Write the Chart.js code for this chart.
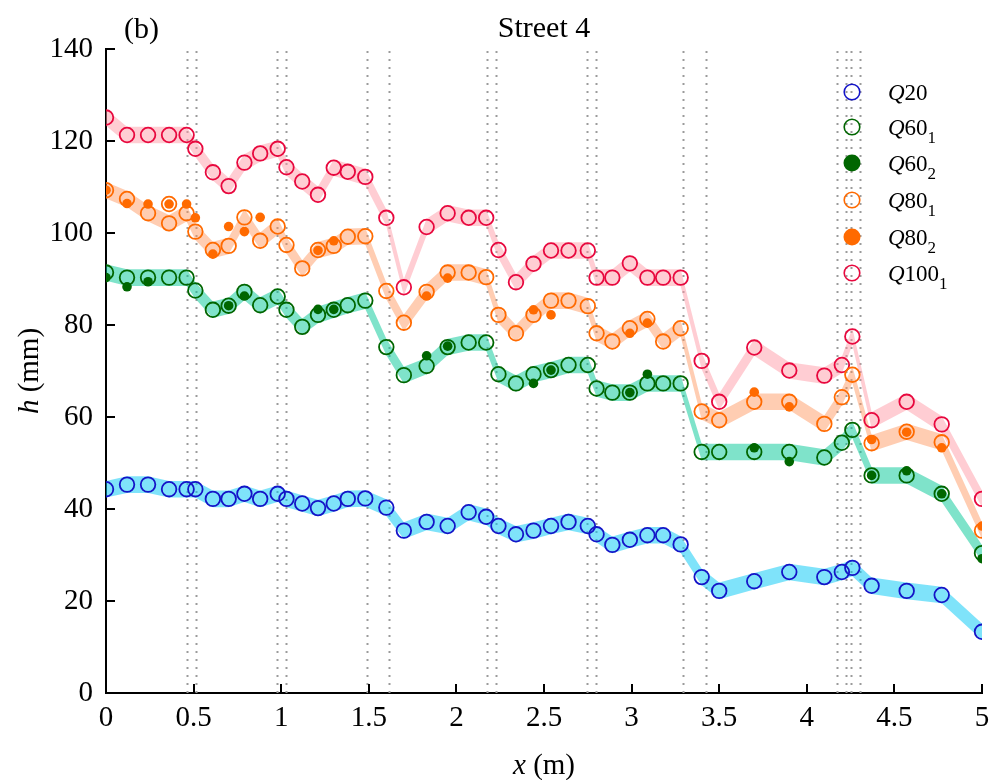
<!DOCTYPE html>
<html><head><meta charset="utf-8">
<style>html,body{margin:0;padding:0;background:#fff;}#wrap{width:992px;height:780px;position:relative;}</style>
<script src="https://cdn.jsdelivr.net/npm/chart.js@4.4.1/dist/chart.umd.min.js"></script>
</head><body><div id="wrap"><canvas id="c" width="992" height="780"></canvas></div>
<script>
// ---- data ----
const xPositions = [0, 0.12, 0.24, 0.36, 0.46, 0.51, 0.61, 0.70, 0.79, 0.88, 0.98, 1.03, 1.12, 1.21, 1.30, 1.38, 1.48, 1.60, 1.70, 1.83, 1.95, 2.07, 2.17, 2.24, 2.34, 2.44, 2.54, 2.64, 2.75, 2.80, 2.89, 2.99, 3.09, 3.18, 3.28, 3.40, 3.50, 3.70, 3.90, 4.10, 4.20, 4.26, 4.37, 4.57, 4.77, 5.00];
const Q20 = [44.3,45.3,45.3,44.3,44.3,44.3,42.2,42.2,43.3,42.2,43.3,42.2,41.2,40.2,41.2,42.2,42.3,40.3,35.3,37.2,36.3,39.3,38.3,36.3,34.5,35.3,36.3,37.2,36.3,34.5,32.2,33.3,34.3,34.3,32.3,25.2,22.2,24.3,26.3,25.2,26.3,27.2,23.3,22.2,21.3,13.3];
const Q60_1 = [91.4,90.3,90.3,90.3,90.3,87.5,83.3,84.2,87.2,84.3,86.2,83.3,79.6,82.2,83.3,84.3,85.3,75.2,69.1,71.1,75.2,76.2,76.2,69.3,67.3,69.3,70.2,71.3,71.3,66.2,65.3,65.3,67.3,67.3,67.3,52.4,52.4,52.4,52.4,51.2,54.4,57.2,47.3,47.3,43.3,30.4];
const Q60_2 = [90.3,88.3,89.4,null,null,null,null,84.2,86.3,null,null,null,null,83.4,83.4,null,null,null,null,73.3,75.4,null,null,null,null,67.3,70.2,null,null,null,null,65.3,69.3,null,null,null,null,53.3,50.3,null,null,null,47.3,48.3,43.3,29.2];
const Q80_1 = [109.3,107.4,104.3,102.1,104.3,100.3,96.3,97.2,103.4,98.3,101.4,97.4,92.3,96.3,97.2,99.2,99.3,87.4,80.5,87.2,91.4,91.4,90.4,82.2,78.2,82.2,85.3,85.3,84.1,78.2,76.4,79.3,81.3,76.4,79.3,61.2,59.3,63.3,63.3,58.5,64.3,69.2,54.3,56.8,54.5,35.3];
const Q80_1_extraX = [0.36];
const Q80_1_extraY = [106.3];
const Q80_2 = [109.3,106.4,106.3,106.3,106.3,103.3,95.4,101.4,100.3,103.4,null,null,null,96.2,98.3,null,null,null,null,86.3,90.2,null,null,null,null,83.3,82.2,null,null,null,null,78.2,80.4,null,null,null,null,65.4,62.2,null,null,null,55.1,56.7,53.3,36.3];
const Q100_1 = [125.1,121.3,121.3,121.3,121.3,118.3,113.2,110.2,115.3,117.3,118.3,114.3,111.2,108.3,114.2,113.3,112.2,103.3,88.2,101.3,104.3,103.3,103.3,96.3,89.3,93.3,96.2,96.2,96.2,90.3,90.3,93.4,90.3,90.3,90.3,72.2,63.3,75.1,70.1,69.0,71.3,77.5,59.3,63.3,58.4,42.2];
const dividerX = [0.463, 0.513, 0.977, 1.028, 1.490, 1.615, 2.174, 2.225, 2.744, 2.796, 3.291, 3.422, 4.175, 4.221, 4.255, 4.301];
const xTicks = [0, 0.5, 1, 1.5, 2, 2.5, 3, 3.5, 4, 4.5, 5];
const yTicks = [0, 20, 40, 60, 80, 100, 120, 140];
const legendLabels = [['20',''],['60','1'],['60','2'],['80','1'],['80','2'],['100','1']];

// ---- styles ----
const FONT = "'Liberation Serif','Times New Roman',serif";
const BAND_HALF = 1.8; // half height of the shaded band, in mm
const C_BLUE = '#1414c8', C_GREEN = '#006600', C_ORANGE = '#ff6a00', C_RED = '#e8083e';
const B_BLUE = 'rgba(0,200,245,0.5)', B_GREEN = 'rgba(0,200,150,0.5)', B_ORANGE = 'rgba(255,145,85,0.45)', B_RED = 'rgba(255,150,162,0.48)';

function pts(vals, off) {
  const out = [];
  vals.forEach((v, i) => { if (v !== null && v !== undefined) out.push({x: xPositions[i], y: v + (off || 0)}); });
  return out;
}
function bandSets(vals, color) {
  return [
    {data: pts(vals, BAND_HALF), borderWidth: 0, pointRadius: 0, fill: '+1', backgroundColor: color, order: 10, tension: 0},
    {data: pts(vals, -BAND_HALF), borderWidth: 0, pointRadius: 0, fill: false, order: 10, tension: 0}
  ];
}
function markerSet(data, color, filled) {
  return {data, showLine: false, pointStyle: 'circle',
    pointRadius: filled ? 4.8 : 7.3, pointHoverRadius: filled ? 4.8 : 7.3,
    borderWidth: filled ? 0 : 1.8, pointBorderColor: color, borderColor: color,
    pointBackgroundColor: filled ? color : 'rgba(0,0,0,0)', order: filled ? 0 : 1};
}
const q80extra = Q80_1_extraX.map((x, i) => ({x, y: Q80_1_extraY[i]}));
const datasets = [
  ...bandSets(Q100_1, B_RED),
  ...bandSets(Q80_1, B_ORANGE),
  ...bandSets(Q60_1, B_GREEN),
  ...bandSets(Q20, B_BLUE),
  markerSet(pts(Q20), C_BLUE, false),
  markerSet(pts(Q60_1), C_GREEN, false),
  markerSet(pts(Q60_2), C_GREEN, true),
  markerSet(pts(Q80_1).concat(q80extra), C_ORANGE, false),
  markerSet(pts(Q80_2), C_ORANGE, true),
  markerSet(pts(Q100_1), C_RED, false)
];
const legendStyles = [[C_BLUE,false],[C_GREEN,false],[C_GREEN,true],[C_ORANGE,false],[C_ORANGE,true],[C_RED,false]];

function richText(ctx, parts, x, y) {
  let cx = x;
  parts.forEach(p => { ctx.font = p[1]; ctx.fillText(p[0], cx, y + (p[2] || 0)); cx += ctx.measureText(p[0]).width; });
  return cx - x;
}
function richWidth(ctx, parts) {
  let w = 0; parts.forEach(p => { ctx.font = p[1]; w += ctx.measureText(p[0]).width; }); return w;
}

const decor = {
  id: 'decor',
  beforeDatasetsDraw(chart) {
    const {ctx, chartArea: a, scales: {x}} = chart;
    ctx.save();
    ctx.strokeStyle = 'rgb(155,155,155)';
    ctx.lineWidth = 2;
    ctx.setLineDash([2, 6]);
    dividerX.forEach(v => {
      const px = Math.round(x.getPixelForValue(v)) + 0.5;
      ctx.beginPath(); ctx.moveTo(px, a.top + 2); ctx.lineTo(px, a.bottom); ctx.stroke();
    });
    ctx.restore();
  },
  afterDraw(chart) {
    const {ctx, chartArea: a, scales: {x, y}} = chart;
    ctx.save();
    ctx.strokeStyle = '#000'; ctx.lineWidth = 2;
    yTicks.forEach(v => { const py = Math.round(y.getPixelForValue(v)); ctx.beginPath(); ctx.moveTo(a.left, py); ctx.lineTo(a.left + 9, py); ctx.stroke(); });
    xTicks.forEach(v => { const px = Math.round(x.getPixelForValue(v)); ctx.beginPath(); ctx.moveTo(px, a.bottom); ctx.lineTo(px, a.bottom - 9); ctx.stroke(); });
    ctx.fillStyle = '#000';
    ctx.textBaseline = 'alphabetic';
    ctx.font = '30px ' + FONT; ctx.textAlign = 'center';
    ctx.fillText('Street 4', (a.left + a.right) / 2, 37);
    ctx.textAlign = 'left';
    ctx.fillText('(b)', 124, 38);
    const xt = [['x', 'italic 29px ' + FONT], [' (m)', '29px ' + FONT]];
    const xw = richWidth(ctx, xt);
    richText(ctx, xt, (a.left + a.right) / 2 - xw / 2, 774);
    const yt = [['h', 'italic 29px ' + FONT], [' (mm)', '29px ' + FONT]];
    const yw = richWidth(ctx, yt);
    ctx.save(); ctx.translate(38, (a.top + a.bottom) / 2); ctx.rotate(-Math.PI / 2);
    richText(ctx, yt, -yw / 2, 0); ctx.restore();
    const ly = [92, 127, 163, 200, 237, 273];
    legendLabels.forEach((lab, i) => {
      const [col, filled] = legendStyles[i];
      ctx.beginPath(); ctx.arc(852, ly[i], filled ? 8.5 : 7.8, 0, Math.PI * 2);
      if (filled) { ctx.fillStyle = col; ctx.fill(); }
      else { ctx.strokeStyle = col; ctx.lineWidth = 1.6; ctx.stroke(); }
      ctx.fillStyle = '#000';
      const parts = [['Q', 'italic 23px ' + FONT], [lab[0], '23px ' + FONT]];
      if (lab[1]) parts.push([lab[1], '17px ' + FONT, 8]);
      richText(ctx, parts, 888, ly[i] + 8);
    });
    ctx.restore();
  }
};

const tickFont = {family: FONT, size: 29};
new Chart(document.getElementById('c').getContext('2d'), {
  type: 'line',
  data: {datasets},
  options: {
    responsive: false, animation: false,
    layout: {padding: {left: 0, right: 10, top: 49, bottom: 0}},
    plugins: {legend: {display: false}, tooltip: {enabled: false}, title: {display: false}},
    elements: {line: {tension: 0}},
    scales: {
      x: {type: 'linear', min: 0, max: 5,
        afterFit: s => { s.height = 87; s.paddingRight = 0; s.paddingLeft = 0; },
        afterBuildTicks: s => { s.ticks = xTicks.map(v => ({value: v})); },
        grid: {drawOnChartArea: false, drawTicks: false},
        border: {color: '#000', width: 2},
        ticks: {font: tickFont, color: '#000', padding: 8, maxRotation: 0, autoSkip: false, callback: v => String(v)}},
      y: {type: 'linear', min: 0, max: 140,
        afterFit: s => { s.width = 106; s.paddingTop = 0; s.paddingBottom = 0; },
        afterBuildTicks: s => { s.ticks = yTicks.map(v => ({value: v})); },
        grid: {drawOnChartArea: false, drawTicks: false},
        border: {color: '#000', width: 2},
        ticks: {font: tickFont, color: '#000', padding: 13, autoSkip: false, callback: v => String(v)}}
    }
  },
  plugins: [decor]
});
</script></body></html>
